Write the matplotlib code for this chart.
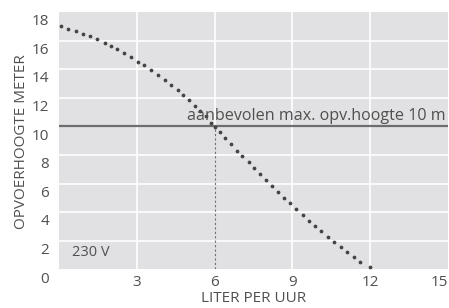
import matplotlib.pyplot as plt
from matplotlib.transforms import ScaledTranslation

plt.rcParams["font.family"] = ["Open Sans", "DejaVu Sans"]

# pump curve
flow = [0.08, 0.36, 0.65, 0.92, 1.20, 1.48, 1.76, 2.02, 2.25, 2.49, 2.76,
        3.03, 3.29, 3.56, 3.81, 4.07, 4.32, 4.58, 4.80, 5.01, 5.24, 5.45,
        5.67, 5.88, 6.02, 6.20, 6.42, 6.64, 6.86, 7.07, 7.31, 7.53, 7.75,
        7.98, 8.22, 8.45, 8.68, 8.91, 9.14, 9.39, 9.63, 9.86, 10.10, 10.36,
        10.60, 10.86, 11.11, 11.37, 11.62, 11.99]
head = [17.03, 16.84, 16.66, 16.47, 16.29, 16.08, 15.85, 15.64, 15.41, 15.13,
        14.85, 14.52, 14.26, 13.92, 13.62, 13.27, 12.92, 12.55, 12.20, 11.85,
        11.44, 11.06, 10.71, 10.22, 9.99, 9.60, 9.16, 8.74, 8.30, 7.90, 7.48,
        7.07, 6.65, 6.23, 5.81, 5.41, 5.02, 4.61, 4.21, 3.81, 3.42, 3.05,
        2.66, 2.28, 1.91, 1.54, 1.19, 0.86, 0.54, 0.19]

x_ticks = [3, 6, 9, 12, 15]
y_ticks = [0, 2, 4, 6, 8, 10, 12, 14, 16, 18]
max_head = 10
flow_at_max = 6

bg = "#e1e1e3"
txt = "#505050"

fig = plt.figure(figsize=(4.49, 3.08), dpi=100)
ax = fig.add_axes([0.1314, 0.1253, 0.8664, 0.8357])
ax.set_facecolor(bg)
ax.set_xlim(0, 15)
ax.set_ylim(0, 18)
for s in ax.spines.values():
    s.set_visible(False)

# white grid
for xv in x_ticks[:-1]:
    lo = max_head / 18 if xv == flow_at_max else 0
    ax.axvline(xv, ymin=lo, color="white", lw=1.2, zorder=1)
for yv in y_ticks[1:-1]:
    if yv != max_head:
        ax.axhline(yv, color="white", lw=1.2, zorder=1)

ax.axhline(max_head, color="#6e6e6e", lw=1.6, zorder=2)
ax.vlines(flow_at_max, 0, max_head, colors="#707070", linestyles=(0, (2, 2)),
          lw=0.8, zorder=2)

ax.plot(flow, head, "o", ms=1.7, color="#444444", ls="none", zorder=3)

ax.text(14.9, max_head + 0.45, "aanbevolen max. opv.hoogte 10 m", ha="right",
        va="baseline", fontsize=11.6, color=txt, zorder=4)
ax.text(0.5, 1.2, "230 V", ha="left", va="center", fontsize=10.5, color=txt)

# ticks: x labels normal, y labels drawn a bit below their gridline
ax.set_xticks(x_ticks)
ax.set_xticklabels([str(v) for v in x_ticks])
ax.tick_params(axis="x", length=0, labelsize=11, colors=txt, pad=4)
ax.get_xticklabels()[-1].set_ha("right")
ax.set_yticks(y_ticks)
ax.set_yticklabels([])
ax.tick_params(axis="y", length=0)
ylab_tr = ax.get_yaxis_transform() + ScaledTranslation(-7 / 72, -7 / 72, fig.dpi_scale_trans)
for yv in y_ticks:
    ax.text(0, yv, str(yv), transform=ylab_tr, ha="right", va="center",
            fontsize=11, color=txt, clip_on=False)

fig.text(0.565, 0.032, "LITER PER UUR", ha="center", va="center",
         fontsize=11, color=txt)
fig.text(0.047, 0.54, "OPVOERHOOGTE METER", ha="center", va="center",
         rotation=90, fontsize=11, color=txt)

fig.savefig("out.png", dpi=100)
